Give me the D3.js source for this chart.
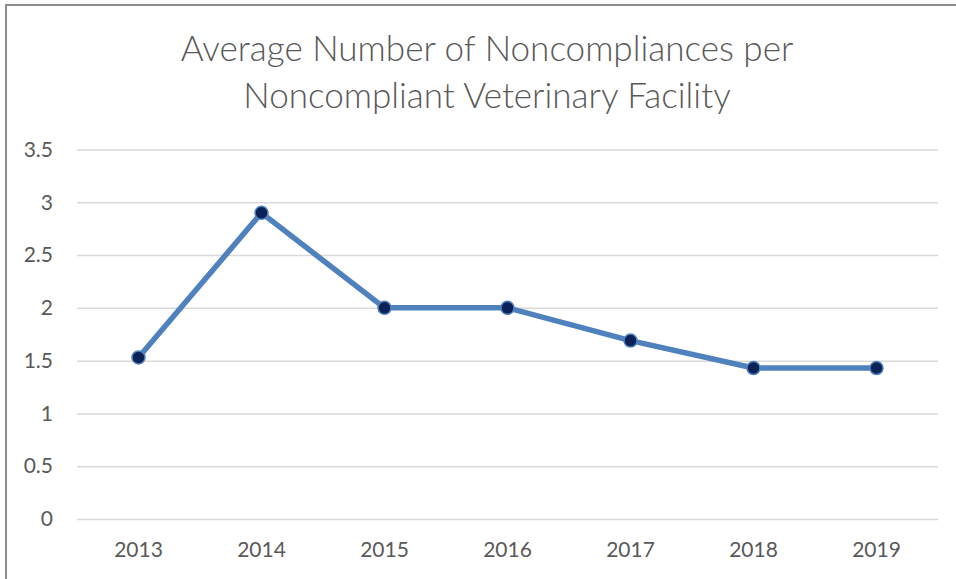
<!DOCTYPE html>
<html>
<head>
<meta charset="utf-8">
<script src="https://cdn.jsdelivr.net/npm/d3@7"></script>
<style>
  body { margin: 0; background: #fff; }
  text { font-family: Lato, "Open Sans", sans-serif; fill: #595959; }
</style>
</head>
<body>
<svg id="chart" width="956" height="579"></svg>
<script>
// data
var years = ["2013", "2014", "2015", "2016", "2017", "2018", "2019"];
var averages = [1.53, 2.90, 2.00, 2.00, 1.69, 1.43, 1.43];
var yTicks = [0, 0.5, 1, 1.5, 2, 2.5, 3, 3.5];
var titleLines = ["Average Number of Noncompliances per", "Noncompliant Veterinary Facility"];

var svg = d3.select("#chart");

var margin = {top: 149.5, right: 18, bottom: 60, left: 77},
    width = 956 - margin.left - margin.right,
    height = 579 - margin.top - margin.bottom;

// frame (top and left edges only, as in the picture)
svg.append("path")
  .attr("d", "M6,579 V5 H956")
  .attr("fill", "none")
  .attr("stroke", "#8c8c8c")
  .attr("stroke-width", 2);

// title
var title = svg.append("g").attr("class", "title");
title.selectAll("text")
  .data(titleLines)
  .enter().append("text")
  .attr("x", 487)
  .attr("y", function(d, i) { return 61 + i * 47; })
  .attr("text-anchor", "middle")
  .style("font-size", "35px")
  .style("font-weight", 300)
  .text(function(d) { return d; });

// shrink/grow title so first line is about as wide as in the picture
var w0 = title.select("text").node().getComputedTextLength();
var fs = 35 * 613 / w0;
title.selectAll("text").style("font-size", fs + "px");

var x = d3.scaleBand().domain(years).range([0, width]);
var y = d3.scaleLinear().domain([0, 3.5]).range([height, 0]);

var g = svg.append("g")
  .attr("transform", "translate(" + margin.left + "," + margin.top + ")");

// gridlines
g.append("g")
  .attr("class", "grid")
  .call(d3.axisLeft(y).tickValues(yTicks).tickSize(-width).tickFormat(""))
  .call(function(s) {
    s.select(".domain").remove();
    s.selectAll("line").attr("stroke", "#d9d9d9").attr("stroke-width", 1.5);
  });

// y axis labels
g.append("g")
  .attr("class", "axis axis--y")
  .call(d3.axisLeft(y).tickValues(yTicks).tickSize(0).tickPadding(24)
    .tickFormat(function(d) { return d; }))
  .call(function(s) {
    s.select(".domain").remove();
    s.selectAll("text").style("font-size", "21px").style("font-family", "Lato, sans-serif").attr("fill", "#595959");
  });

// x axis labels
g.append("g")
  .attr("class", "axis axis--x")
  .attr("transform", "translate(0," + height + ")")
  .call(d3.axisBottom(x).tickSize(0).tickPadding(23))
  .call(function(s) {
    s.select(".domain").remove();
    s.selectAll("text").style("font-size", "21px").style("font-family", "Lato, sans-serif").attr("fill", "#595959");
  });

var pts = years.map(function(d, i) { return {year: d, value: averages[i]}; });

g.append("path")
  .datum(pts)
  .attr("class", "line")
  .attr("fill", "none")
  .attr("stroke", "#4f81bd")
  .attr("stroke-width", 5.5)
  .attr("stroke-linejoin", "round")
  .attr("d", d3.line()
    .x(function(d) { return x(d.year) + x.bandwidth() / 2; })
    .y(function(d) { return y(d.value); }));

g.selectAll(".dot")
  .data(pts)
  .enter().append("circle")
  .attr("class", "dot")
  .attr("cx", function(d) { return x(d.year) + x.bandwidth() / 2; })
  .attr("cy", function(d) { return y(d.value); })
  .attr("r", 6.5)
  .attr("fill", "#0a2257")
  .attr("stroke", "#4f81bd")
  .attr("stroke-width", 1.5);
</script>
</body>
</html>
